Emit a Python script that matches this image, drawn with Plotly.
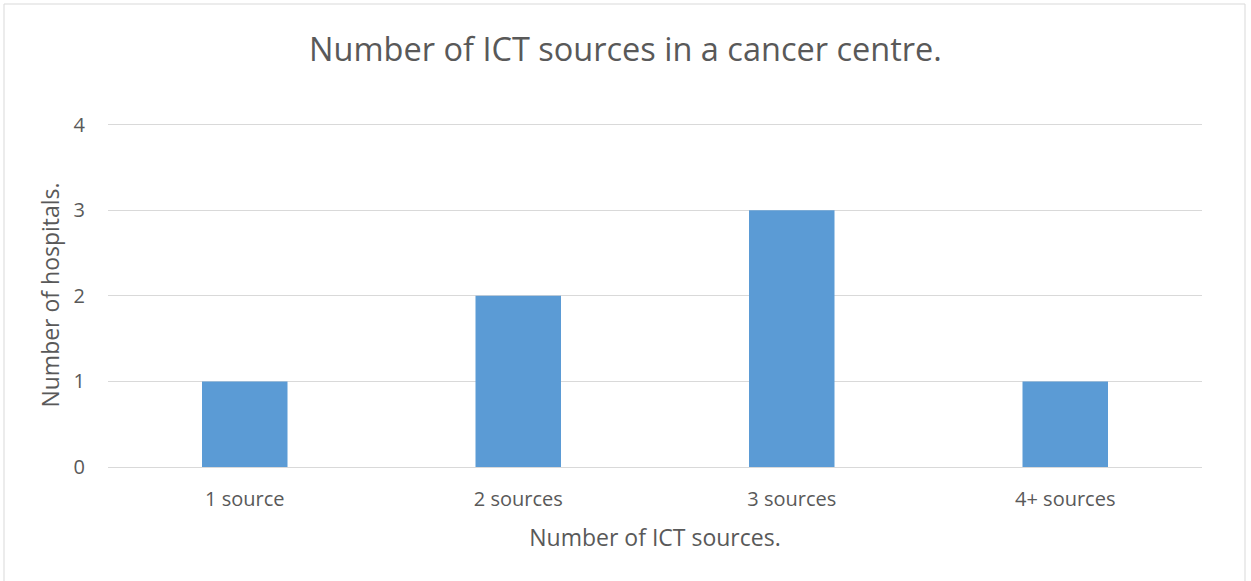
import plotly.graph_objects as go

# Chart data
categories = ["1 source", "2 sources", "3 sources", "4+ sources"]
hospitals = [1, 2, 3, 1]
y_ticks = [0, 1, 2, 3, 4]

W, H = 1251, 581
L, R, T, B = 108, 49, 123, 114
pw, ph = W - L - R, H - T - B

text_color = "#595959"
font_family = "Open Sans, Liberation Sans, sans-serif"

fig = go.Figure(
    go.Bar(
        x=categories,
        y=hospitals,
        marker=dict(color="#5B9BD5", line=dict(width=0)),
        width=0.3126,
        hoverinfo="x+y",
    )
)

fig.update_layout(
    width=W,
    height=H,
    margin=dict(l=L, r=R, t=T, b=B, autoexpand=False),
    paper_bgcolor="white",
    plot_bgcolor="white",
    showlegend=False,
    font=dict(family=font_family, color=text_color, size=20),
    title=dict(
        text="Number of ICT sources in a cancer centre.",
        x=0.5,
        xref="container",
        y=1 - 50 / H,
        yref="container",
        xanchor="center",
        yanchor="middle",
        font=dict(size=32.5, color=text_color, family=font_family),
    ),
    xaxis=dict(
        showgrid=False,
        showline=False,
        zeroline=False,
        ticks="",
        ticklabelstandoff=18,
        tickfont=dict(size=20, color=text_color),
        title=dict(
            text="Number of ICT sources.",
            font=dict(size=23, color=text_color),
            standoff=18,
        ),
    ),
    yaxis=dict(
        range=[0, 4.02],
        tickvals=y_ticks,
        showgrid=True,
        gridcolor="#D9D9D9",
        gridwidth=1,
        zeroline=True,
        zerolinecolor="#D9D9D9",
        zerolinewidth=1,
        showline=False,
        ticks="",
        ticklabelstandoff=22,
        tickfont=dict(size=20, color=text_color),
        title=dict(
            text="Number of hospitals.",
            font=dict(size=23, color=text_color),
            standoff=7,
        ),
    ),
    shapes=[
        dict(
            type="rect",
            xref="paper",
            yref="paper",
            x0=(4 - L) / pw,
            x1=(1245 - L) / pw,
            y0=(H - 590 - B) / ph,
            y1=(H - 4 - B) / ph,
            line=dict(color="#D9D9D9", width=1),
            fillcolor="rgba(0,0,0,0)",
            layer="below",
        )
    ],
)

fig.write_html("out.html")
